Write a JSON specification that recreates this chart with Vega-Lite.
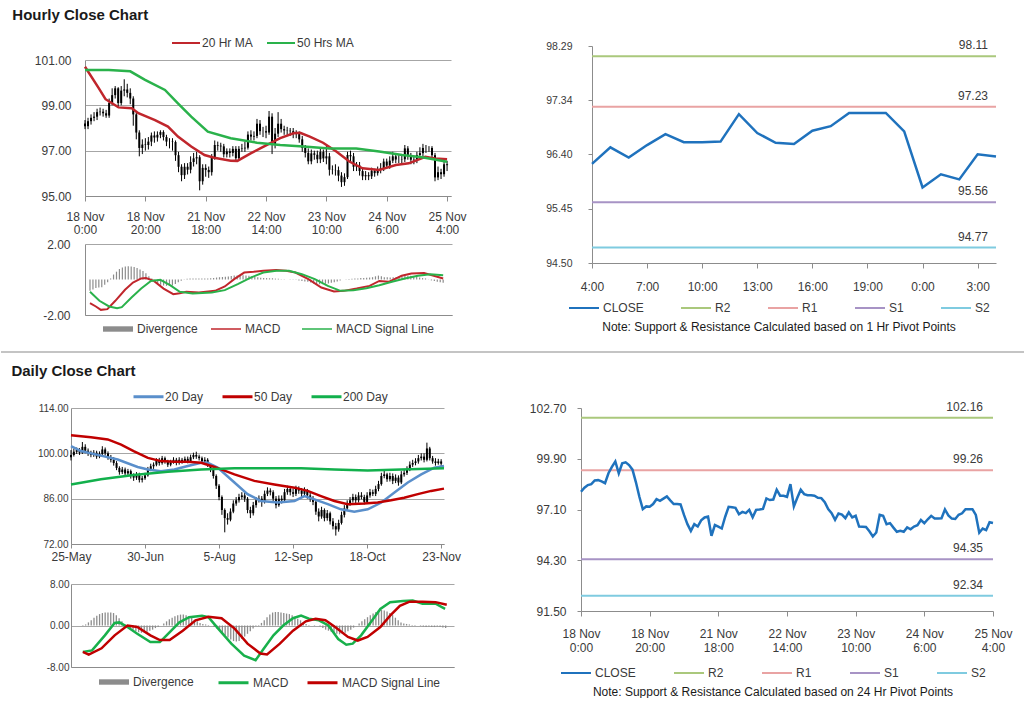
{
"$schema":"https://vega.github.io/schema/vega-lite/v6.json",
"padding":{"left":0,"top":8,"right":0,"bottom":0},
"background":"white",
"config":{"view":{"stroke":null},"font":"Liberation Sans",
"axis":{"labelFont":"Liberation Sans","labelColor":"#3a3a3a","domainColor":"#8c8c8c","tickColor":"#8c8c8c","gridColor":"#a6a6a6","gridWidth":1,"domainWidth":1,"labelFontSize":12,"labelOverlap":false,"labelFlush":false},
"legend":{"labelFont":"Liberation Sans","labelColor":"#3a3a3a","labelFontSize":12,"titleFont":"Liberation Sans"},
"title":{"font":"Liberation Sans"}},
"datasets":{
"hc":[{"i":0,"o":98.2,"c":98.08,"l":97.95,"h":98.35},{"i":1,"o":98.08,"c":98.3,"l":97.95,"h":98.45},{"i":2,"o":98.3,"c":98.45,"l":98.15,"h":98.6},{"i":3,"o":98.45,"c":98.5,"l":98.3,"h":98.7},{"i":4,"o":98.5,"c":98.7,"l":98.35,"h":98.85},{"i":5,"o":98.7,"c":98.72,"l":98.55,"h":98.9},{"i":6,"o":98.72,"c":98.65,"l":98.5,"h":98.85},{"i":7,"o":98.65,"c":98.55,"l":98.45,"h":98.8},{"i":8,"o":98.55,"c":99.1,"l":98.45,"h":99.3},{"i":9,"o":99.1,"c":99.45,"l":99.0,"h":99.75},{"i":10,"o":99.45,"c":99.75,"l":99.3,"h":99.85},{"i":11,"o":99.75,"c":99.1,"l":98.9,"h":99.8},{"i":12,"o":99.1,"c":99.65,"l":99.0,"h":99.85},{"i":13,"o":99.65,"c":99.7,"l":99.4,"h":100.15},{"i":14,"o":99.7,"c":99.55,"l":99.35,"h":99.95},{"i":15,"o":99.55,"c":99.3,"l":99.05,"h":99.75},{"i":16,"o":99.3,"c":98.6,"l":98.1,"h":99.4},{"i":17,"o":98.6,"c":97.8,"l":97.5,"h":98.7},{"i":18,"o":97.8,"c":97.12,"l":96.75,"h":97.9},{"i":19,"o":97.12,"c":97.27,"l":96.85,"h":97.5},{"i":20,"o":97.27,"c":97.25,"l":97.0,"h":97.55},{"i":21,"o":97.25,"c":97.4,"l":97.05,"h":97.6},{"i":22,"o":97.4,"c":97.67,"l":97.2,"h":97.8},{"i":23,"o":97.67,"c":97.58,"l":97.35,"h":97.85},{"i":24,"o":97.58,"c":97.7,"l":97.4,"h":97.85},{"i":25,"o":97.7,"c":97.82,"l":97.55,"h":97.9},{"i":26,"o":97.82,"c":97.6,"l":97.45,"h":97.9},{"i":27,"o":97.6,"c":97.4,"l":97.2,"h":97.7},{"i":28,"o":97.4,"c":97.4,"l":97.1,"h":97.55},{"i":29,"o":97.4,"c":97.38,"l":97.0,"h":97.55},{"i":30,"o":97.38,"c":96.8,"l":96.55,"h":97.45},{"i":31,"o":96.8,"c":96.29,"l":96.05,"h":96.95},{"i":32,"o":96.29,"c":95.92,"l":95.65,"h":96.4},{"i":33,"o":95.92,"c":96.29,"l":95.75,"h":96.45},{"i":34,"o":96.29,"c":96.16,"l":95.95,"h":96.45},{"i":35,"o":96.16,"c":96.5,"l":96.0,"h":96.75},{"i":36,"o":96.5,"c":96.66,"l":96.3,"h":96.9},{"i":37,"o":96.66,"c":96.71,"l":96.4,"h":96.95},{"i":38,"o":96.71,"c":95.65,"l":95.25,"h":96.8},{"i":39,"o":95.65,"c":96.24,"l":95.5,"h":96.4},{"i":40,"o":96.24,"c":96.15,"l":95.85,"h":96.4},{"i":41,"o":96.15,"c":96.05,"l":95.8,"h":96.3},{"i":42,"o":96.05,"c":96.7,"l":95.9,"h":96.85},{"i":43,"o":96.7,"c":97.25,"l":96.6,"h":97.45},{"i":44,"o":97.25,"c":97.22,"l":97.0,"h":97.4},{"i":45,"o":97.22,"c":97.19,"l":96.95,"h":97.35},{"i":46,"o":97.19,"c":96.84,"l":96.7,"h":97.3},{"i":47,"o":96.84,"c":96.97,"l":96.7,"h":97.1},{"i":48,"o":96.97,"c":96.9,"l":96.7,"h":97.1},{"i":49,"o":96.9,"c":97.08,"l":96.75,"h":97.2},{"i":50,"o":97.08,"c":96.67,"l":96.5,"h":97.2},{"i":51,"o":96.67,"c":97.08,"l":96.55,"h":97.2},{"i":52,"o":97.08,"c":97.1,"l":96.95,"h":97.3},{"i":53,"o":97.1,"c":97.13,"l":96.95,"h":97.4},{"i":54,"o":97.13,"c":97.71,"l":97.05,"h":97.85},{"i":55,"o":97.71,"c":97.62,"l":97.45,"h":97.9},{"i":56,"o":97.62,"c":97.65,"l":97.45,"h":97.85},{"i":57,"o":97.65,"c":98.19,"l":97.55,"h":98.4},{"i":58,"o":98.19,"c":97.86,"l":97.7,"h":98.35},{"i":59,"o":97.86,"c":97.86,"l":97.6,"h":98.05},{"i":60,"o":97.86,"c":97.8,"l":97.55,"h":98.1},{"i":61,"o":97.8,"c":98.5,"l":97.7,"h":98.75},{"i":62,"o":98.5,"c":97.27,"l":96.85,"h":98.65},{"i":63,"o":97.27,"c":97.75,"l":97.1,"h":98.0},{"i":64,"o":97.75,"c":98.19,"l":97.6,"h":98.7},{"i":65,"o":98.19,"c":97.95,"l":97.8,"h":98.4},{"i":66,"o":97.95,"c":97.89,"l":97.7,"h":98.1},{"i":67,"o":97.89,"c":97.88,"l":97.7,"h":98.05},{"i":68,"o":97.88,"c":97.86,"l":97.65,"h":98.0},{"i":69,"o":97.86,"c":97.75,"l":97.55,"h":98.0},{"i":70,"o":97.75,"c":97.73,"l":97.55,"h":97.9},{"i":71,"o":97.73,"c":97.5,"l":97.35,"h":97.85},{"i":72,"o":97.5,"c":97.12,"l":96.95,"h":97.65},{"i":73,"o":97.12,"c":96.9,"l":96.7,"h":97.25},{"i":74,"o":96.9,"c":96.53,"l":96.4,"h":97.1},{"i":75,"o":96.53,"c":96.88,"l":96.4,"h":97.05},{"i":76,"o":96.88,"c":96.82,"l":96.6,"h":97.0},{"i":77,"o":96.82,"c":96.62,"l":96.45,"h":97.0},{"i":78,"o":96.62,"c":96.94,"l":96.45,"h":97.1},{"i":79,"o":96.94,"c":96.66,"l":96.5,"h":97.05},{"i":80,"o":96.66,"c":96.75,"l":96.4,"h":97.2},{"i":81,"o":96.75,"c":96.16,"l":95.9,"h":96.9},{"i":82,"o":96.16,"c":96.15,"l":95.95,"h":96.35},{"i":83,"o":96.15,"c":96.14,"l":95.9,"h":96.4},{"i":84,"o":96.14,"c":95.9,"l":95.65,"h":96.3},{"i":85,"o":95.9,"c":95.61,"l":95.4,"h":96.05},{"i":86,"o":95.61,"c":95.83,"l":95.45,"h":96.0},{"i":87,"o":95.83,"c":96.81,"l":95.75,"h":96.95},{"i":88,"o":96.81,"c":96.75,"l":96.5,"h":97.0},{"i":89,"o":96.75,"c":96.29,"l":96.1,"h":96.9},{"i":90,"o":96.29,"c":96.35,"l":96.1,"h":96.5},{"i":91,"o":96.35,"c":96.1,"l":95.9,"h":96.5},{"i":92,"o":96.1,"c":95.87,"l":95.7,"h":96.25},{"i":93,"o":95.87,"c":95.92,"l":95.7,"h":96.1},{"i":94,"o":95.92,"c":95.87,"l":95.7,"h":96.05},{"i":95,"o":95.87,"c":96.11,"l":95.75,"h":96.25},{"i":96,"o":96.11,"c":96.01,"l":95.85,"h":96.2},{"i":97,"o":96.01,"c":96.16,"l":95.9,"h":96.3},{"i":98,"o":96.16,"c":96.23,"l":96.0,"h":96.45},{"i":99,"o":96.23,"c":96.52,"l":96.1,"h":96.65},{"i":100,"o":96.52,"c":96.34,"l":96.2,"h":96.65},{"i":101,"o":96.34,"c":96.56,"l":96.2,"h":96.75},{"i":102,"o":96.56,"c":96.75,"l":96.45,"h":96.95},{"i":103,"o":96.75,"c":96.61,"l":96.45,"h":96.9},{"i":104,"o":96.61,"c":96.61,"l":96.45,"h":96.8},{"i":105,"o":96.61,"c":96.62,"l":96.45,"h":96.85},{"i":106,"o":96.62,"c":97.1,"l":96.5,"h":97.25},{"i":107,"o":97.1,"c":96.77,"l":96.6,"h":97.2},{"i":108,"o":96.77,"c":96.6,"l":96.4,"h":96.9},{"i":109,"o":96.6,"c":96.58,"l":96.4,"h":96.75},{"i":110,"o":96.58,"c":96.81,"l":96.45,"h":96.95},{"i":111,"o":96.81,"c":96.89,"l":96.65,"h":97.15},{"i":112,"o":96.89,"c":97.12,"l":96.75,"h":97.3},{"i":113,"o":97.12,"c":97.12,"l":96.9,"h":97.25},{"i":114,"o":97.12,"c":97.12,"l":96.95,"h":97.2},{"i":115,"o":97.12,"c":96.8,"l":96.6,"h":97.2},{"i":116,"o":96.8,"c":95.82,"l":95.65,"h":96.9},{"i":117,"o":95.82,"c":96.05,"l":95.7,"h":96.3},{"i":118,"o":96.05,"c":95.96,"l":95.75,"h":96.2},{"i":119,"o":95.96,"c":96.4,"l":95.85,"h":96.55},{"i":120,"o":96.4,"c":96.36,"l":96.1,"h":96.55}],
"hma":[{"k":"20 Hr MA","i":0,"v":100.7},{"k":"20 Hr MA","i":4.6,"v":99.75},{"k":"20 Hr MA","i":6.8,"v":99.27},{"k":"20 Hr MA","i":11.1,"v":98.91},{"k":"20 Hr MA","i":15.5,"v":98.87},{"k":"20 Hr MA","i":17.7,"v":98.65},{"k":"20 Hr MA","i":23.2,"v":98.35},{"k":"20 Hr MA","i":27.5,"v":98.06},{"k":"20 Hr MA","i":30.8,"v":97.62},{"k":"20 Hr MA","i":35.2,"v":97.18},{"k":"20 Hr MA","i":39.6,"v":96.81},{"k":"20 Hr MA","i":42.8,"v":96.69},{"k":"20 Hr MA","i":48.3,"v":96.56},{"k":"20 Hr MA","i":50.5,"v":96.55},{"k":"20 Hr MA","i":54.9,"v":96.88},{"k":"20 Hr MA","i":59.2,"v":97.18},{"k":"20 Hr MA","i":64.7,"v":97.55},{"k":"20 Hr MA","i":69.1,"v":97.77},{"k":"20 Hr MA","i":71.3,"v":97.79},{"k":"20 Hr MA","i":74.5,"v":97.62},{"k":"20 Hr MA","i":78.9,"v":97.35},{"k":"20 Hr MA","i":83.3,"v":96.96},{"k":"20 Hr MA","i":87.6,"v":96.52},{"k":"20 Hr MA","i":92,"v":96.22},{"k":"20 Hr MA","i":97.5,"v":96.15},{"k":"20 Hr MA","i":103,"v":96.37},{"k":"20 Hr MA","i":107.3,"v":96.44},{"k":"20 Hr MA","i":112.8,"v":96.73},{"k":"20 Hr MA","i":116,"v":96.66},{"k":"20 Hr MA","i":120,"v":96.62},
{"k":"50 Hrs MA","i":0,"v":100.56},{"k":"50 Hrs MA","i":7.9,"v":100.56},{"k":"50 Hrs MA","i":15,"v":100.5},{"k":"50 Hrs MA","i":19.9,"v":100.12},{"k":"50 Hrs MA","i":26.5,"v":99.68},{"k":"50 Hrs MA","i":30.8,"v":99.09},{"k":"50 Hrs MA","i":35.2,"v":98.5},{"k":"50 Hrs MA","i":40.7,"v":97.84},{"k":"50 Hrs MA","i":48.3,"v":97.55},{"k":"50 Hrs MA","i":57,"v":97.35},{"k":"50 Hrs MA","i":64.7,"v":97.25},{"k":"50 Hrs MA","i":72.4,"v":97.18},{"k":"50 Hrs MA","i":81.1,"v":97.1},{"k":"50 Hrs MA","i":89.9,"v":97.1},{"k":"50 Hrs MA","i":97.5,"v":96.96},{"k":"50 Hrs MA","i":105.1,"v":96.81},{"k":"50 Hrs MA","i":111.7,"v":96.71},{"k":"50 Hrs MA","i":120,"v":96.51}],
"hmacd":[{"k":"MACD","i":0,"v":-1.33},{"k":"MACD","i":2,"v":-1.52},{"k":"MACD","i":3.7,"v":-1.71},{"k":"MACD","i":5.9,"v":-1.67},{"k":"MACD","i":8.6,"v":-1.2},{"k":"MACD","i":11.9,"v":-0.58},{"k":"MACD","i":14.6,"v":-0.17},{"k":"MACD","i":17.4,"v":0.06},{"k":"MACD","i":19,"v":0.08},{"k":"MACD","i":21.7,"v":-0.08},{"k":"MACD","i":25,"v":-0.51},{"k":"MACD","i":28.3,"v":-0.83},{"k":"MACD","i":30.5,"v":-0.77},{"k":"MACD","i":32.7,"v":-0.69},{"k":"MACD","i":37,"v":-0.73},{"k":"MACD","i":42.5,"v":-0.64},{"k":"MACD","i":45.8,"v":-0.39},{"k":"MACD","i":49,"v":0.02},{"k":"MACD","i":52.4,"v":0.39},{"k":"MACD","i":55.6,"v":0.43},{"k":"MACD","i":58.9,"v":0.49},{"k":"MACD","i":63.3,"v":0.54},{"k":"MACD","i":66.6,"v":0.49},{"k":"MACD","i":69.8,"v":0.39},{"k":"MACD","i":74.2,"v":0.02},{"k":"MACD","i":78.6,"v":-0.45},{"k":"MACD","i":82.9,"v":-0.68},{"k":"MACD","i":86.2,"v":-0.64},{"k":"MACD","i":90.6,"v":-0.51},{"k":"MACD","i":95,"v":-0.36},{"k":"MACD","i":98.3,"v":-0.08},{"k":"MACD","i":101.5,"v":-0.13},{"k":"MACD","i":105.9,"v":0.21},{"k":"MACD","i":109.2,"v":0.34},{"k":"MACD","i":113.5,"v":0.36},{"k":"MACD","i":116.8,"v":0.21},{"k":"MACD","i":120,"v":0.06},
{"k":"MACD Signal Line","i":0,"v":-0.69},{"k":"MACD Signal Line","i":3.2,"v":-1.2},{"k":"MACD Signal Line","i":6.5,"v":-1.52},{"k":"MACD Signal Line","i":9.2,"v":-1.62},{"k":"MACD Signal Line","i":10.8,"v":-1.56},{"k":"MACD Signal Line","i":14.1,"v":-1.01},{"k":"MACD Signal Line","i":17.4,"v":-0.51},{"k":"MACD Signal Line","i":20.7,"v":-0.08},{"k":"MACD Signal Line","i":23.9,"v":-0.02},{"k":"MACD Signal Line","i":27.2,"v":-0.32},{"k":"MACD Signal Line","i":30.5,"v":-0.69},{"k":"MACD Signal Line","i":34.9,"v":-0.79},{"k":"MACD Signal Line","i":41.4,"v":-0.73},{"k":"MACD Signal Line","i":45.8,"v":-0.6},{"k":"MACD Signal Line","i":50.2,"v":-0.26},{"k":"MACD Signal Line","i":54.6,"v":0.11},{"k":"MACD Signal Line","i":58.9,"v":0.39},{"k":"MACD Signal Line","i":63.3,"v":0.49},{"k":"MACD Signal Line","i":67.6,"v":0.49},{"k":"MACD Signal Line","i":72,"v":0.3},{"k":"MACD Signal Line","i":76.4,"v":0.02},{"k":"MACD Signal Line","i":80.8,"v":-0.36},{"k":"MACD Signal Line","i":85.1,"v":-0.64},{"k":"MACD Signal Line","i":89.5,"v":-0.6},{"k":"MACD Signal Line","i":93.9,"v":-0.49},{"k":"MACD Signal Line","i":98.3,"v":-0.32},{"k":"MACD Signal Line","i":102.6,"v":-0.13},{"k":"MACD Signal Line","i":107,"v":0.06},{"k":"MACD Signal Line","i":111.4,"v":0.21},{"k":"MACD Signal Line","i":115.7,"v":0.3},{"k":"MACD Signal Line","i":120,"v":0.24}],
"hdiv":[{"i":0,"d":-0.64},{"i":1,"d":-0.56},{"i":2,"d":-0.48},{"i":3,"d":-0.45},{"i":4,"d":-0.43},{"i":5,"d":-0.29},{"i":6,"d":-0.15},{"i":7,"d":0.06},{"i":8,"d":0.28},{"i":9,"d":0.44},{"i":10,"d":0.59},{"i":11,"d":0.68},{"i":12,"d":0.73},{"i":13,"d":0.74},{"i":14,"d":0.73},{"i":15,"d":0.7},{"i":16,"d":0.65},{"i":17,"d":0.57},{"i":18,"d":0.48},{"i":19,"d":0.35},{"i":20,"d":0.19},{"i":21,"d":0.05},{"i":22,"d":-0.09},{"i":23,"d":-0.2},{"i":24,"d":-0.3},{"i":25,"d":-0.34},{"i":26,"d":-0.36},{"i":27,"d":-0.36},{"i":28,"d":-0.34},{"i":29,"d":-0.25},{"i":30,"d":-0.15},{"i":31,"d":-0.07},{"i":32,"d":0.01},{"i":33,"d":0.04},{"i":34,"d":0.06},{"i":35,"d":0.06},{"i":36,"d":0.05},{"i":37,"d":0.05},{"i":38,"d":0.05},{"i":39,"d":0.05},{"i":40,"d":0.06},{"i":41,"d":0.07},{"i":42,"d":0.09},{"i":43,"d":0.11},{"i":44,"d":0.13},{"i":45,"d":0.14},{"i":46,"d":0.15},{"i":47,"d":0.17},{"i":48,"d":0.2},{"i":49,"d":0.22},{"i":50,"d":0.23},{"i":51,"d":0.24},{"i":52,"d":0.24},{"i":53,"d":0.23},{"i":54,"d":0.21},{"i":55,"d":0.19},{"i":56,"d":0.16},{"i":57,"d":0.13},{"i":58,"d":0.1},{"i":59,"d":0.09},{"i":60,"d":0.08},{"i":61,"d":0.07},{"i":62,"d":0.07},{"i":63,"d":0.05},{"i":64,"d":0.04},{"i":65,"d":0.02},{"i":66,"d":0.01},{"i":67,"d":0.0},{"i":68,"d":-0.01},{"i":69,"d":-0.01},{"i":70,"d":-0.02},{"i":71,"d":-0.05},{"i":72,"d":-0.09},{"i":73,"d":-0.11},{"i":74,"d":-0.13},{"i":75,"d":-0.17},{"i":76,"d":-0.22},{"i":77,"d":-0.25},{"i":78,"d":-0.27},{"i":79,"d":-0.26},{"i":80,"d":-0.24},{"i":81,"d":-0.22},{"i":82,"d":-0.19},{"i":83,"d":-0.15},{"i":84,"d":-0.11},{"i":85,"d":-0.05},{"i":86,"d":0.0},{"i":87,"d":0.02},{"i":88,"d":0.03},{"i":89,"d":0.04},{"i":90,"d":0.05},{"i":91,"d":0.06},{"i":92,"d":0.08},{"i":93,"d":0.09},{"i":94,"d":0.1},{"i":95,"d":0.11},{"i":96,"d":0.13},{"i":97,"d":0.18},{"i":98,"d":0.22},{"i":99,"d":0.18},{"i":100,"d":0.13},{"i":101,"d":0.12},{"i":102,"d":0.11},{"i":103,"d":0.12},{"i":104,"d":0.13},{"i":105,"d":0.16},{"i":106,"d":0.19},{"i":107,"d":0.2},{"i":108,"d":0.21},{"i":109,"d":0.21},{"i":110,"d":0.2},{"i":111,"d":0.15},{"i":112,"d":0.11},{"i":113,"d":0.08},{"i":114,"d":0.06},{"i":115,"d":0.01},{"i":116,"d":-0.05},{"i":117,"d":-0.09},{"i":118,"d":-0.13},{"i":119,"d":-0.15},{"i":120,"d":-0.18}],
"hsr":[{"k":"R2","v":98.11},{"k":"R1","v":97.23},{"k":"S1","v":95.56},{"k":"S2","v":94.77}],
"hclose":[{"j":0,"c":96.23},{"j":1,"c":96.52},{"j":2,"c":96.34},{"j":3,"c":96.56},{"j":4,"c":96.75},{"j":5,"c":96.61},{"j":6,"c":96.61},{"j":7,"c":96.62},{"j":8,"c":97.1},{"j":9,"c":96.77},{"j":10,"c":96.6},{"j":11,"c":96.58},{"j":12,"c":96.81},{"j":13,"c":96.89},{"j":14,"c":97.12},{"j":15,"c":97.12},{"j":16,"c":97.12},{"j":17,"c":96.8},{"j":18,"c":95.82},{"j":19,"c":96.05},{"j":20,"c":95.96},{"j":21,"c":96.4},{"j":22,"c":96.36}],
"dc":[{"i":0,"o":98.8,"c":99.5,"l":97.8,"h":101.0},{"i":1,"o":99.5,"c":100.5,"l":99.0,"h":101.5},{"i":2,"o":100.5,"c":101.0,"l":99.8,"h":101.8},{"i":3,"o":101.0,"c":100.2,"l":99.5,"h":101.6},{"i":4,"o":100.2,"c":102.0,"l":99.8,"h":103.5},{"i":5,"o":102.0,"c":100.8,"l":100.0,"h":102.8},{"i":6,"o":100.8,"c":100.0,"l":99.2,"h":101.5},{"i":7,"o":100.0,"c":99.5,"l":98.8,"h":100.8},{"i":8,"o":99.5,"c":100.2,"l":98.9,"h":101.0},{"i":9,"o":100.2,"c":99.0,"l":98.3,"h":100.8},{"i":10,"o":99.0,"c":99.8,"l":98.5,"h":100.6},{"i":11,"o":99.8,"c":101.2,"l":99.2,"h":102.2},{"i":12,"o":101.2,"c":100.0,"l":99.3,"h":101.8},{"i":13,"o":100.0,"c":98.8,"l":98.0,"h":100.6},{"i":14,"o":98.8,"c":98.0,"l":97.2,"h":99.5},{"i":15,"o":98.0,"c":97.0,"l":96.2,"h":98.8},{"i":16,"o":97.0,"c":95.5,"l":94.8,"h":97.6},{"i":17,"o":95.5,"c":94.2,"l":93.4,"h":96.0},{"i":18,"o":94.2,"c":95.0,"l":93.6,"h":95.8},{"i":19,"o":95.0,"c":93.8,"l":93.0,"h":95.6},{"i":20,"o":93.8,"c":94.5,"l":93.0,"h":95.2},{"i":21,"o":94.5,"c":93.0,"l":92.2,"h":95.0},{"i":22,"o":93.0,"c":92.5,"l":91.5,"h":93.8},{"i":23,"o":92.5,"c":93.5,"l":91.8,"h":94.2},{"i":24,"o":93.5,"c":91.8,"l":91.0,"h":94.0},{"i":25,"o":91.8,"c":92.3,"l":91.0,"h":93.0},{"i":26,"o":92.3,"c":93.2,"l":91.8,"h":94.0},{"i":27,"o":93.2,"c":95.0,"l":92.8,"h":95.8},{"i":28,"o":95.0,"c":96.0,"l":94.5,"h":96.8},{"i":29,"o":96.0,"c":96.5,"l":95.2,"h":97.2},{"i":30,"o":96.5,"c":97.8,"l":96.0,"h":98.5},{"i":31,"o":97.8,"c":97.0,"l":96.2,"h":98.6},{"i":32,"o":97.0,"c":98.5,"l":96.5,"h":99.2},{"i":33,"o":98.5,"c":97.5,"l":96.8,"h":99.0},{"i":34,"o":97.5,"c":96.5,"l":95.8,"h":98.0},{"i":35,"o":96.5,"c":97.2,"l":96.0,"h":98.0},{"i":36,"o":97.2,"c":98.0,"l":96.8,"h":98.8},{"i":37,"o":98.0,"c":97.0,"l":96.3,"h":98.6},{"i":38,"o":97.0,"c":98.0,"l":96.5,"h":98.8},{"i":39,"o":98.0,"c":97.5,"l":96.8,"h":98.6},{"i":40,"o":97.5,"c":98.3,"l":97.0,"h":99.0},{"i":41,"o":98.3,"c":97.6,"l":96.9,"h":99.0},{"i":42,"o":97.6,"c":98.8,"l":97.2,"h":99.6},{"i":43,"o":98.8,"c":99.5,"l":98.2,"h":100.2},{"i":44,"o":99.5,"c":99.0,"l":98.3,"h":100.5},{"i":45,"o":99.0,"c":98.5,"l":97.8,"h":99.6},{"i":46,"o":98.5,"c":97.5,"l":96.8,"h":99.0},{"i":47,"o":97.5,"c":98.0,"l":96.9,"h":98.8},{"i":48,"o":98.0,"c":96.5,"l":95.8,"h":98.5},{"i":49,"o":96.5,"c":95.0,"l":94.2,"h":97.0},{"i":50,"o":95.0,"c":93.0,"l":92.2,"h":95.5},{"i":51,"o":93.0,"c":90.0,"l":89.0,"h":93.5},{"i":52,"o":90.0,"c":86.5,"l":85.5,"h":90.5},{"i":53,"o":86.5,"c":82.5,"l":81.0,"h":87.0},{"i":54,"o":82.5,"c":80.0,"l":75.6,"h":83.0},{"i":55,"o":80.0,"c":79.5,"l":78.0,"h":81.5},{"i":56,"o":79.5,"c":82.0,"l":79.0,"h":83.0},{"i":57,"o":82.0,"c":84.5,"l":81.5,"h":85.5},{"i":58,"o":84.5,"c":85.5,"l":83.8,"h":86.5},{"i":59,"o":85.5,"c":86.5,"l":84.8,"h":87.5},{"i":60,"o":86.5,"c":87.0,"l":85.8,"h":88.0},{"i":61,"o":87.0,"c":86.0,"l":85.0,"h":88.0},{"i":62,"o":86.0,"c":82.5,"l":81.5,"h":86.5},{"i":63,"o":82.5,"c":81.5,"l":80.0,"h":83.5},{"i":64,"o":81.5,"c":84.0,"l":80.8,"h":85.0},{"i":65,"o":84.0,"c":85.5,"l":83.2,"h":86.5},{"i":66,"o":85.5,"c":86.0,"l":84.8,"h":87.0},{"i":67,"o":86.0,"c":85.0,"l":83.5,"h":86.8},{"i":68,"o":85.0,"c":87.5,"l":84.5,"h":88.5},{"i":69,"o":87.5,"c":88.5,"l":86.8,"h":89.5},{"i":70,"o":88.5,"c":88.0,"l":87.0,"h":89.2},{"i":71,"o":88.0,"c":86.0,"l":85.0,"h":88.6},{"i":72,"o":86.0,"c":84.0,"l":83.0,"h":86.8},{"i":73,"o":84.0,"c":86.0,"l":83.5,"h":87.0},{"i":74,"o":86.0,"c":85.5,"l":84.5,"h":87.0},{"i":75,"o":85.5,"c":88.0,"l":85.0,"h":89.0},{"i":76,"o":88.0,"c":89.0,"l":87.2,"h":90.0},{"i":77,"o":89.0,"c":88.0,"l":87.0,"h":89.8},{"i":78,"o":88.0,"c":87.5,"l":86.5,"h":89.0},{"i":79,"o":87.5,"c":89.0,"l":86.8,"h":90.0},{"i":80,"o":89.0,"c":88.5,"l":87.5,"h":89.8},{"i":81,"o":88.5,"c":87.5,"l":86.5,"h":89.3},{"i":82,"o":87.5,"c":88.5,"l":86.8,"h":89.5},{"i":83,"o":88.5,"c":87.0,"l":86.0,"h":89.0},{"i":84,"o":87.0,"c":86.0,"l":85.0,"h":87.8},{"i":85,"o":86.0,"c":85.0,"l":84.0,"h":86.8},{"i":86,"o":85.0,"c":82.0,"l":81.0,"h":85.5},{"i":87,"o":82.0,"c":80.5,"l":79.0,"h":83.0},{"i":88,"o":80.5,"c":82.5,"l":79.8,"h":83.5},{"i":89,"o":82.5,"c":80.0,"l":79.0,"h":83.0},{"i":90,"o":80.0,"c":81.5,"l":79.2,"h":82.5},{"i":91,"o":81.5,"c":79.0,"l":78.0,"h":82.0},{"i":92,"o":79.0,"c":77.5,"l":76.5,"h":80.0},{"i":93,"o":77.5,"c":76.5,"l":74.6,"h":78.5},{"i":94,"o":76.5,"c":78.5,"l":75.8,"h":79.5},{"i":95,"o":78.5,"c":81.0,"l":78.0,"h":82.0},{"i":96,"o":81.0,"c":83.0,"l":80.2,"h":84.0},{"i":97,"o":83.0,"c":84.5,"l":82.2,"h":85.5},{"i":98,"o":84.5,"c":85.5,"l":83.8,"h":86.5},{"i":99,"o":85.5,"c":86.5,"l":84.8,"h":87.5},{"i":100,"o":86.5,"c":85.5,"l":84.5,"h":87.3},{"i":101,"o":85.5,"c":87.0,"l":84.8,"h":88.0},{"i":102,"o":87.0,"c":86.5,"l":85.8,"h":88.0},{"i":103,"o":86.5,"c":85.0,"l":84.2,"h":87.2},{"i":104,"o":85.0,"c":87.0,"l":84.5,"h":88.0},{"i":105,"o":87.0,"c":88.0,"l":86.3,"h":89.0},{"i":106,"o":88.0,"c":87.5,"l":86.8,"h":88.8},{"i":107,"o":87.5,"c":89.0,"l":86.8,"h":90.0},{"i":108,"o":89.0,"c":90.5,"l":88.3,"h":91.5},{"i":109,"o":90.5,"c":93.0,"l":90.0,"h":94.0},{"i":110,"o":93.0,"c":93.5,"l":92.3,"h":94.8},{"i":111,"o":93.5,"c":92.0,"l":91.2,"h":94.0},{"i":112,"o":92.0,"c":93.0,"l":91.3,"h":94.0},{"i":113,"o":93.0,"c":91.5,"l":90.5,"h":93.8},{"i":114,"o":91.5,"c":92.5,"l":90.8,"h":93.5},{"i":115,"o":92.5,"c":91.0,"l":90.0,"h":93.2},{"i":116,"o":91.0,"c":93.5,"l":90.5,"h":94.5},{"i":117,"o":93.5,"c":94.0,"l":92.8,"h":95.0},{"i":118,"o":94.0,"c":95.0,"l":93.3,"h":96.0},{"i":119,"o":95.0,"c":96.5,"l":94.5,"h":97.5},{"i":120,"o":96.5,"c":97.0,"l":95.8,"h":98.0},{"i":121,"o":97.0,"c":97.5,"l":96.3,"h":98.5},{"i":122,"o":97.5,"c":98.5,"l":96.8,"h":99.5},{"i":123,"o":98.5,"c":99.0,"l":97.8,"h":100.0},{"i":124,"o":99.0,"c":98.0,"l":97.2,"h":100.0},{"i":125,"o":98.0,"c":101.5,"l":97.5,"h":103.3},{"i":126,"o":101.5,"c":98.5,"l":97.8,"h":102.0},{"i":127,"o":98.5,"c":97.5,"l":96.8,"h":99.2},{"i":128,"o":97.5,"c":97.0,"l":96.2,"h":98.5},{"i":129,"o":97.0,"c":97.5,"l":96.5,"h":98.3},{"i":130,"o":97.5,"c":96.8,"l":96.0,"h":98.2}],
"dma":[{"k":"20 Day","i":0,"v":102.2},{"k":"20 Day","i":3.5,"v":100.7},{"k":"20 Day","i":10.5,"v":99.3},{"k":"20 Day","i":16.4,"v":98.1},{"k":"20 Day","i":23.4,"v":95.8},{"k":"20 Day","i":27,"v":95.0},{"k":"20 Day","i":31.6,"v":94.5},{"k":"20 Day","i":36.3,"v":95.0},{"k":"20 Day","i":41,"v":96.1},{"k":"20 Day","i":45.7,"v":97.1},{"k":"20 Day","i":48,"v":97.1},{"k":"20 Day","i":51.5,"v":95.6},{"k":"20 Day","i":57.4,"v":91.0},{"k":"20 Day","i":62,"v":87.4},{"k":"20 Day","i":66.7,"v":85.3},{"k":"20 Day","i":72.6,"v":84.8},{"k":"20 Day","i":78.5,"v":85.3},{"k":"20 Day","i":82,"v":86.8},{"k":"20 Day","i":85.5,"v":85.8},{"k":"20 Day","i":90.2,"v":84.3},{"k":"20 Day","i":94.8,"v":82.7},{"k":"20 Day","i":99.5,"v":82.0},{"k":"20 Day","i":104.2,"v":82.7},{"k":"20 Day","i":109,"v":84.8},{"k":"20 Day","i":113.6,"v":87.9},{"k":"20 Day","i":118.3,"v":91.0},{"k":"20 Day","i":123,"v":93.5},{"k":"20 Day","i":127.6,"v":95.6},{"k":"20 Day","i":131,"v":96.1},
{"k":"50 Day","i":0,"v":105.6},{"k":"50 Day","i":7,"v":105.0},{"k":"50 Day","i":12.9,"v":104.3},{"k":"50 Day","i":17.6,"v":102.7},{"k":"50 Day","i":22,"v":100.7},{"k":"50 Day","i":27,"v":98.6},{"k":"50 Day","i":31.6,"v":97.6},{"k":"50 Day","i":36.3,"v":97.4},{"k":"50 Day","i":41,"v":97.4},{"k":"50 Day","i":45.7,"v":97.1},{"k":"50 Day","i":50.4,"v":95.8},{"k":"50 Day","i":57.4,"v":93.5},{"k":"50 Day","i":64.4,"v":91.5},{"k":"50 Day","i":71.4,"v":90.4},{"k":"50 Day","i":78.5,"v":89.4},{"k":"50 Day","i":83.1,"v":88.4},{"k":"50 Day","i":87.8,"v":86.8},{"k":"50 Day","i":92.5,"v":85.3},{"k":"50 Day","i":97.2,"v":84.3},{"k":"50 Day","i":103,"v":84.5},{"k":"50 Day","i":107.7,"v":84.8},{"k":"50 Day","i":112.4,"v":85.5},{"k":"50 Day","i":117,"v":86.3},{"k":"50 Day","i":121.8,"v":87.4},{"k":"50 Day","i":126.5,"v":88.4},{"k":"50 Day","i":131,"v":89.1},
{"k":"200 Day","i":0,"v":90.4},{"k":"200 Day","i":10.5,"v":92.0},{"k":"200 Day","i":22,"v":93.3},{"k":"200 Day","i":34,"v":94.3},{"k":"200 Day","i":45.7,"v":95.0},{"k":"200 Day","i":57.4,"v":95.4},{"k":"200 Day","i":80.8,"v":95.4},{"k":"200 Day","i":92.5,"v":95.0},{"k":"200 Day","i":104.2,"v":94.7},{"k":"200 Day","i":116,"v":95.0},{"k":"200 Day","i":131,"v":95.4}],
"dmacd":[{"k":"MACD","i":0,"v":-5.1},{"k":"MACD","i":3.3,"v":-4.8},{"k":"MACD","i":7.9,"v":-1.9},{"k":"MACD","i":11.4,"v":0.5},{"k":"MACD","i":13.1,"v":0.6},{"k":"MACD","i":16,"v":-0.3},{"k":"MACD","i":19.5,"v":-1.6},{"k":"MACD","i":24.2,"v":-3.2},{"k":"MACD","i":27.6,"v":-3.2},{"k":"MACD","i":30,"v":-1.9},{"k":"MACD","i":34.6,"v":0.6},{"k":"MACD","i":38.1,"v":1.6},{"k":"MACD","i":42.7,"v":1.9},{"k":"MACD","i":45,"v":1.6},{"k":"MACD","i":48.5,"v":-0.6},{"k":"MACD","i":53.2,"v":-3.5},{"k":"MACD","i":57.8,"v":-5.8},{"k":"MACD","i":61.9,"v":-6.7},{"k":"MACD","i":64.8,"v":-4.5},{"k":"MACD","i":68.3,"v":-1.9},{"k":"MACD","i":71.8,"v":0.0},{"k":"MACD","i":75.3,"v":1.4},{"k":"MACD","i":78.2,"v":1.9},{"k":"MACD","i":81,"v":1.3},{"k":"MACD","i":84.6,"v":1.0},{"k":"MACD","i":88,"v":0.0},{"k":"MACD","i":91.5,"v":-2.6},{"k":"MACD","i":94.4,"v":-3.7},{"k":"MACD","i":96.7,"v":-3.5},{"k":"MACD","i":99.7,"v":-1.9},{"k":"MACD","i":103.1,"v":0.6},{"k":"MACD","i":106.6,"v":3.2},{"k":"MACD","i":110.1,"v":4.5},{"k":"MACD","i":114.7,"v":4.7},{"k":"MACD","i":118.2,"v":4.8},{"k":"MACD","i":121.7,"v":4.2},{"k":"MACD","i":126.4,"v":4.2},{"k":"MACD","i":129.8,"v":3.2},
{"k":"MACD Signal Line","i":0,"v":-5.1},{"k":"MACD Signal Line","i":2.1,"v":-5.6},{"k":"MACD Signal Line","i":6.7,"v":-4.4},{"k":"MACD Signal Line","i":11.4,"v":-1.9},{"k":"MACD Signal Line","i":16,"v":0.0},{"k":"MACD Signal Line","i":19.5,"v":-0.3},{"k":"MACD Signal Line","i":24.2,"v":-1.9},{"k":"MACD Signal Line","i":27.6,"v":-2.8},{"k":"MACD Signal Line","i":31.1,"v":-2.8},{"k":"MACD Signal Line","i":35.8,"v":-1.0},{"k":"MACD Signal Line","i":40.4,"v":1.0},{"k":"MACD Signal Line","i":45,"v":1.7},{"k":"MACD Signal Line","i":49.7,"v":1.4},{"k":"MACD Signal Line","i":54.4,"v":-0.6},{"k":"MACD Signal Line","i":59,"v":-3.5},{"k":"MACD Signal Line","i":63.6,"v":-5.4},{"k":"MACD Signal Line","i":66,"v":-5.6},{"k":"MACD Signal Line","i":70.6,"v":-3.5},{"k":"MACD Signal Line","i":75.3,"v":-1.0},{"k":"MACD Signal Line","i":79.9,"v":0.8},{"k":"MACD Signal Line","i":83.4,"v":1.3},{"k":"MACD Signal Line","i":86.9,"v":1.0},{"k":"MACD Signal Line","i":90.4,"v":-0.3},{"k":"MACD Signal Line","i":95,"v":-2.2},{"k":"MACD Signal Line","i":98.5,"v":-2.9},{"k":"MACD Signal Line","i":102,"v":-2.2},{"k":"MACD Signal Line","i":106.6,"v":-0.3},{"k":"MACD Signal Line","i":110.1,"v":1.9},{"k":"MACD Signal Line","i":113.6,"v":3.8},{"k":"MACD Signal Line","i":117.1,"v":4.6},{"k":"MACD Signal Line","i":121.7,"v":4.6},{"k":"MACD Signal Line","i":126.4,"v":4.5},{"k":"MACD Signal Line","i":130.4,"v":4.0}],
"ddiv":[{"i":0,"d":0.1},{"i":1,"d":0.2},{"i":2,"d":0.6},{"i":3,"d":1.0},{"i":4,"d":1.5},{"i":5,"d":1.9},{"i":6,"d":2.2},{"i":7,"d":2.4},{"i":8,"d":2.5},{"i":9,"d":2.5},{"i":10,"d":2.5},{"i":11,"d":2.4},{"i":12,"d":2.0},{"i":13,"d":1.4},{"i":14,"d":0.8},{"i":15,"d":0.3},{"i":16,"d":-0.2},{"i":17,"d":-0.5},{"i":18,"d":-0.8},{"i":19,"d":-1.1},{"i":20,"d":-1.3},{"i":21,"d":-1.4},{"i":22,"d":-1.3},{"i":23,"d":-1.2},{"i":24,"d":-1.0},{"i":25,"d":-0.8},{"i":26,"d":-0.5},{"i":27,"d":-0.3},{"i":28,"d":0.0},{"i":29,"d":0.4},{"i":30,"d":0.8},{"i":31,"d":1.2},{"i":32,"d":1.5},{"i":33,"d":1.8},{"i":34,"d":2.0},{"i":35,"d":2.1},{"i":36,"d":2.1},{"i":37,"d":2.0},{"i":38,"d":1.8},{"i":39,"d":1.5},{"i":40,"d":1.1},{"i":41,"d":0.8},{"i":42,"d":0.5},{"i":43,"d":0.3},{"i":44,"d":0.2},{"i":45,"d":0.1},{"i":46,"d":0.0},{"i":47,"d":-0.3},{"i":48,"d":-0.6},{"i":49,"d":-1.0},{"i":50,"d":-1.4},{"i":51,"d":-1.9},{"i":52,"d":-2.3},{"i":53,"d":-2.7},{"i":54,"d":-3.0},{"i":55,"d":-3.1},{"i":56,"d":-3.0},{"i":57,"d":-2.6},{"i":58,"d":-2.1},{"i":59,"d":-1.6},{"i":60,"d":-1.1},{"i":61,"d":-0.6},{"i":62,"d":-0.1},{"i":63,"d":0.1},{"i":64,"d":0.5},{"i":65,"d":1.0},{"i":66,"d":1.6},{"i":67,"d":2.1},{"i":68,"d":2.5},{"i":69,"d":2.6},{"i":70,"d":2.6},{"i":71,"d":2.5},{"i":72,"d":2.4},{"i":73,"d":2.3},{"i":74,"d":2.2},{"i":75,"d":2.0},{"i":76,"d":1.7},{"i":77,"d":1.3},{"i":78,"d":1.0},{"i":79,"d":0.6},{"i":80,"d":0.3},{"i":81,"d":0.1},{"i":82,"d":0.0},{"i":83,"d":0.1},{"i":84,"d":0.0},{"i":85,"d":-0.2},{"i":86,"d":-0.5},{"i":87,"d":-0.8},{"i":88,"d":-1.0},{"i":89,"d":-1.2},{"i":90,"d":-1.4},{"i":91,"d":-1.6},{"i":92,"d":-1.7},{"i":93,"d":-1.6},{"i":94,"d":-1.4},{"i":95,"d":-1.1},{"i":96,"d":-0.8},{"i":97,"d":-0.4},{"i":98,"d":0.0},{"i":99,"d":0.4},{"i":100,"d":0.8},{"i":101,"d":1.2},{"i":102,"d":1.6},{"i":103,"d":2.0},{"i":104,"d":2.3},{"i":105,"d":2.6},{"i":106,"d":2.8},{"i":107,"d":3.0},{"i":108,"d":2.9},{"i":109,"d":2.7},{"i":110,"d":2.4},{"i":111,"d":2.0},{"i":112,"d":1.5},{"i":113,"d":1.0},{"i":114,"d":0.6},{"i":115,"d":0.4},{"i":116,"d":0.3},{"i":117,"d":0.2},{"i":118,"d":0.1},{"i":119,"d":0.1},{"i":120,"d":0.0},{"i":121,"d":-0.1},{"i":122,"d":-0.2},{"i":123,"d":-0.3},{"i":124,"d":-0.2},{"i":125,"d":-0.3},{"i":126,"d":-0.3},{"i":127,"d":-0.2},{"i":128,"d":-0.3},{"i":129,"d":-0.4},{"i":130,"d":-0.5}],
"dsr":[{"k":"R2","v":102.16},{"k":"R1","v":99.26},{"k":"S1","v":94.35},{"k":"S2","v":92.34}]
},
"spacing":11,
"resolve":{"scale":{"stroke":"independent","fill":"independent"},"legend":{"stroke":"independent","fill":"independent"}},
"vconcat":[
{"title":{"text":"Hourly Close Chart","anchor":"start","fontSize":15,"fontWeight":"bold","color":"#1a1a1a","offset":3,"dx":-22},
 "spacing":78,
 "resolve":{"scale":{"stroke":"independent","fill":"independent"},"legend":{"stroke":"independent","fill":"independent"}},
 "hconcat":[
  {"bounds":"flush","spacing":0,
   "resolve":{"scale":{"stroke":"independent","fill":"independent"},"legend":{"stroke":"independent","fill":"independent"}},
   "hconcat":[
    {"width":14,"height":1,"data":{"values":[]},"mark":"point"},
    {"spacing":1,
     "resolve":{"scale":{"stroke":"independent","fill":"independent"},"legend":{"stroke":"independent","fill":"independent"}},
     "vconcat":[
      {"width":10,"height":1,"data":{"values":[]},"mark":"point"},
      {"width":366,"height":136,
       "layer":[
        {"data":{"name":"hc"},"mark":{"type":"rule","color":"#000000","strokeWidth":1},
         "encoding":{"x":{"field":"i","type":"quantitative","title":null,"scale":{"domain":[0,121.3],"nice":false,"zero":false},
            "axis":{"values":[0,20,40,60,80,100,120],"labelExpr":"[['18 Nov','0:00'],['18 Nov','20:00'],['21 Nov','18:00'],['22 Nov','14:00'],['23 Nov','10:00'],['24 Nov','6:00'],['25 Nov','4:00']][round(datum.value/20)]","grid":false,"tickSize":5,"labelPadding":10,"labelLineHeight":13,"labelFontSize":12}},
           "y":{"field":"l","type":"quantitative","title":null,"scale":{"domain":[95,101],"nice":false,"zero":false},
            "axis":{"values":[95,97,99,101],"format":".2f","grid":true,"tickSize":0,"labelPadding":14,"labelFontSize":12}},
           "y2":{"field":"h"}}},
        {"data":{"name":"hc"},"mark":{"type":"rule","color":"#000000","strokeWidth":2},
         "encoding":{"x":{"field":"i","type":"quantitative","title":null,"scale":{"domain":[0,121.3],"nice":false,"zero":false}},
           "y":{"field":"o","type":"quantitative","title":null,"scale":{"domain":[95,101],"nice":false,"zero":false}},
           "y2":{"field":"c"}}},
        {"data":{"name":"hma"},"mark":{"type":"line","strokeWidth":2.5},
         "encoding":{"x":{"field":"i","type":"quantitative","title":null,"scale":{"domain":[0,121.3],"nice":false,"zero":false}},
           "y":{"field":"v","type":"quantitative","title":null,"scale":{"domain":[95,101],"nice":false,"zero":false}},
           "stroke":{"field":"k","type":"nominal","title":null,"scale":{"domain":["20 Hr MA","50 Hrs MA"],"range":["#c0262c","#2ab24b"]},
             "legend":{"orient":"none","legendX":86,"legendY":-32,"direction":"horizontal","symbolType":"stroke","symbolSize":784,"symbolStrokeWidth":2,"columnPadding":10,"labelOffset":1,"labelFontSize":12}}}}
       ]},
      {"spacing":1,
       "resolve":{"scale":{"stroke":"independent","fill":"independent"},"legend":{"stroke":"independent","fill":"independent"}},
       "vconcat":[
        {"width":10,"height":1,"data":{"values":[]},"mark":"point"},
        {"width":367,"height":71,
         "layer":[
          {"data":{"name":"hdiv"},"mark":{"type":"bar","width":1.2},
           "encoding":{"x":{"field":"i","type":"quantitative","title":null,"scale":{"domain":[0,121.3],"nice":false,"zero":false},"axis":{"labels":false,"ticks":false,"grid":false,"domain":true}},
             "y":{"field":"d","type":"quantitative","title":null,"stack":null,"scale":{"domain":[-2,2],"nice":false},
               "axis":{"values":[-2,0,2],"labelExpr":"datum.value == 0 ? '0.00' : (datum.value < 0 ? '-' : '') + format(abs(datum.value), '.2f')","grid":true,"tickSize":0,"labelPadding":15,"labelFontSize":12}},
             "fill":{"datum":"Divergence","type":"nominal","title":null,"scale":{"domain":["Divergence"],"range":["#8c8c8c"]},
               "legend":{"orient":"none","legendX":17,"legendY":69,"symbolType":"M-1,-0.18H1V0.18H-1Z","symbolSize":900,"labelOffset":3,"labelFontSize":12}}}},
          {"data":{"name":"hmacd"},"mark":{"type":"line","strokeWidth":2},
           "encoding":{"x":{"field":"i","type":"quantitative","title":null,"scale":{"domain":[0,121.3],"nice":false,"zero":false}},
             "y":{"field":"v","type":"quantitative","title":null,"scale":{"domain":[-2,2],"nice":false}},
             "stroke":{"field":"k","type":"nominal","title":null,"scale":{"domain":["MACD","MACD Signal Line"],"range":["#c0262c","#2ab24b"]},
               "legend":{"orient":"none","legendX":125,"legendY":69,"direction":"horizontal","symbolType":"stroke","symbolSize":900,"symbolStrokeWidth":1.5,"columnPadding":18,"labelOffset":3,"labelFontSize":12}}}}
         ]}
      ]}
    ]}
  ]},
  {"spacing":12,
   "resolve":{"scale":{"stroke":"independent","fill":"independent"},"legend":{"stroke":"independent","fill":"independent"}},
   "vconcat":[
    {"width":10,"height":1,"data":{"values":[]},"mark":"point"},
    {"width":404,"height":217,
     "layer":[
      {"data":{"name":"hsr"},"mark":{"type":"rule","strokeWidth":2},
       "encoding":{"y":{"field":"v","type":"quantitative","title":null,"scale":{"domain":[94.5,98.29],"nice":false,"zero":false},
           "axis":{"values":[94.5,95.45,96.4,97.34,98.29],"format":".2f","grid":false,"tickSize":4,"labelPadding":16,"labelFontSize":10.5}},
         "stroke":{"field":"k","type":"nominal","title":"Note: Support & Resistance Calculated based on 1 Hr Pivot Points","scale":{"domain":["CLOSE","R2","R1","S1","S2"],"range":["#1f72bd","#aac87c","#e9a3a3","#a793c5","#7fcbe0"]}}}},
      {"data":{"name":"hsr"},"mark":{"type":"text","align":"right","baseline":"bottom","dx":-8,"dy":-4,"fontSize":12,"color":"#3a3a3a"},
       "encoding":{"x":{"datum":22,"type":"quantitative","scale":{"domain":[0,22],"nice":false,"zero":false}},
         "y":{"field":"v","type":"quantitative","title":null,"scale":{"domain":[94.5,98.29],"nice":false,"zero":false}},
         "text":{"field":"v","type":"quantitative","format":".2f"}}},
      {"data":{"name":"hclose"},"mark":{"type":"line","strokeWidth":2.5},
       "encoding":{"x":{"field":"j","type":"quantitative","title":null,"scale":{"domain":[0,22],"nice":false,"zero":false},
           "axis":{"values":[0,3,6,9,12,15,18,21],"labelExpr":"['4:00','7:00','10:00','13:00','16:00','19:00','0:00','3:00'][round(datum.value/3)]","grid":false,"tickSize":5,"labelPadding":13,"labelFontSize":12}},
         "y":{"field":"c","type":"quantitative","title":null,"scale":{"domain":[94.5,98.29],"nice":false,"zero":false}},
         "stroke":{"datum":"CLOSE","type":"nominal","title":"Note: Support & Resistance Calculated based on 1 Hr Pivot Points","scale":{"domain":["CLOSE","R2","R1","S1","S2"],"range":["#1f72bd","#aac87c","#e9a3a3","#a793c5","#7fcbe0"]},
           "legend":{"orient":"none","legendX":-24,"legendY":246,"direction":"horizontal","symbolType":"stroke","symbolSize":900,"symbolStrokeWidth":2,"columnPadding":33,"labelOffset":3,"labelFontSize":12,"titleOrient":"bottom","titleAnchor":"middle","titleFontWeight":"normal","titleFontSize":12,"titleColor":"#1a1a1a","titlePadding":8,"titleLimit":600}}}}
     ]}
  ]}
 ]},
{"width":954,"height":6,"data":{"values":[{}]},"mark":{"type":"rule","color":"#b0b0b0","strokeWidth":1.5},
 "encoding":{"x":{"datum":-70,"type":"quantitative","scale":{"domain":[0,954],"nice":false,"zero":false},"axis":null},"x2":{"datum":954},
   "y":{"datum":0,"type":"quantitative","scale":{"domain":[0,1]},"axis":null}}},
{"title":{"text":"Daily Close Chart","anchor":"start","fontSize":15,"fontWeight":"bold","color":"#1a1a1a","offset":1,"dx":-26},
 "spacing":68,
 "resolve":{"scale":{"stroke":"independent","fill":"independent"},"legend":{"stroke":"independent","fill":"independent"}},
 "hconcat":[
  {"spacing":17,
   "resolve":{"scale":{"stroke":"independent","fill":"independent"},"legend":{"stroke":"independent","fill":"independent"}},
   "vconcat":[
    {"width":373,"height":136,
     "layer":[
      {"data":{"name":"dc"},"mark":{"type":"rule","color":"#000000","strokeWidth":1},
       "encoding":{"x":{"field":"i","type":"quantitative","title":null,"scale":{"domain":[0,131],"nice":false,"zero":false},
          "axis":{"values":[0,26,52,78,104,130],"labelExpr":"['25-May','30-Jun','5-Aug','12-Sep','18-Oct','23-Nov'][round(datum.value/26)]","grid":false,"tickSize":4,"labelPadding":3,"labelFontSize":12}},
         "y":{"field":"l","type":"quantitative","title":null,"scale":{"domain":[72,114],"nice":false,"zero":false},
          "axis":{"values":[72,86,100,114],"format":".2f","grid":true,"tickSize":0,"labelPadding":3,"labelFontSize":10}},
         "y2":{"field":"h"}}},
      {"data":{"name":"dc"},"mark":{"type":"rule","color":"#000000","strokeWidth":2},
       "encoding":{"x":{"field":"i","type":"quantitative","title":null,"scale":{"domain":[0,131],"nice":false,"zero":false}},
         "y":{"field":"o","type":"quantitative","title":null,"scale":{"domain":[72,114],"nice":false,"zero":false}},
         "y2":{"field":"c"}}},
      {"data":{"name":"dma"},"mark":{"type":"line","strokeWidth":2.5},
       "encoding":{"x":{"field":"i","type":"quantitative","title":null,"scale":{"domain":[0,131],"nice":false,"zero":false}},
         "y":{"field":"v","type":"quantitative","title":null,"scale":{"domain":[72,114],"nice":false,"zero":false}},
         "stroke":{"field":"k","type":"nominal","title":null,"scale":{"domain":["20 Day","50 Day","200 Day"],"range":["#5a8fcb","#c00000","#12b04c"]},
           "legend":{"orient":"none","legendX":61,"legendY":-28,"direction":"horizontal","symbolType":"stroke","symbolSize":900,"symbolStrokeWidth":3,"columnPadding":12,"labelOffset":0,"labelFontSize":12}}}}
     ]},
    {"width":383,"height":83,
     "layer":[
      {"data":{"name":"ddiv"},"mark":{"type":"bar","width":1.3},
       "encoding":{"x":{"field":"i","type":"quantitative","title":null,"scale":{"domain":[-2.45,131.2],"nice":false,"zero":false},"axis":{"labels":false,"ticks":false,"grid":false,"domain":true}},
         "y":{"field":"d","type":"quantitative","title":null,"stack":null,"scale":{"domain":[-8,8],"nice":false},
           "axis":{"values":[-8,0,8],"labelExpr":"datum.value == 0 ? '0.00' : (datum.value < 0 ? '-' : '') + format(abs(datum.value), '.2f')","grid":true,"tickSize":0,"labelPadding":2,"labelFontSize":10}},
         "fill":{"datum":"Divergence","type":"nominal","title":null,"scale":{"domain":["Divergence"],"range":["#8c8c8c"]},
           "legend":{"orient":"none","legendX":27,"legendY":82,"symbolType":"M-1,-0.18H1V0.18H-1Z","symbolSize":900,"labelOffset":3,"labelFontSize":12}}}},
      {"data":{"name":"dmacd"},"mark":{"type":"line","strokeWidth":2.5},
       "encoding":{"x":{"field":"i","type":"quantitative","title":null,"scale":{"domain":[-2.45,131.2],"nice":false,"zero":false}},
         "y":{"field":"v","type":"quantitative","title":null,"scale":{"domain":[-8,8],"nice":false}},
         "stroke":{"field":"k","type":"nominal","title":null,"scale":{"domain":["MACD","MACD Signal Line"],"range":["#18b04b","#c00000"]},
           "legend":{"orient":"none","legendX":146,"legendY":82,"direction":"horizontal","symbolType":"stroke","symbolSize":900,"symbolStrokeWidth":3,"columnPadding":12,"labelOffset":3,"labelFontSize":12}}}}
     ]}
  ]},
  {"width":412,"height":203,
   "layer":[
    {"data":{"name":"dsr"},"mark":{"type":"rule","strokeWidth":2},
     "encoding":{"y":{"field":"v","type":"quantitative","title":null,"scale":{"domain":[91.5,102.7],"nice":false,"zero":false},
         "axis":{"values":[91.5,94.3,97.1,99.9,102.7],"format":".2f","grid":false,"tickSize":4,"labelPadding":11,"labelFontSize":12}},
       "stroke":{"field":"k","type":"nominal","title":"Note:  Support & Resistance Calculated based on 24 Hr Pivot Points","scale":{"domain":["CLOSE","R2","R1","S1","S2"],"range":["#1f72bd","#aac87c","#e9a3a3","#a793c5","#7fcbe0"]}}}},
    {"data":{"name":"dsr"},"mark":{"type":"text","align":"right","baseline":"bottom","dx":-10,"dy":-4,"fontSize":12,"color":"#3a3a3a"},
     "encoding":{"x":{"datum":120,"type":"quantitative","scale":{"domain":[0,120],"nice":false,"zero":false}},
       "y":{"field":"v","type":"quantitative","title":null,"scale":{"domain":[91.5,102.7],"nice":false,"zero":false}},
       "text":{"field":"v","type":"quantitative","format":".2f"}}},
    {"data":{"name":"hc"},"mark":{"type":"line","strokeWidth":2.5},
     "encoding":{"x":{"field":"i","type":"quantitative","title":null,"scale":{"domain":[0,120],"nice":false,"zero":false},
         "axis":{"values":[0,20,40,60,80,100,120],"labelExpr":"[['18 Nov','0:00'],['18 Nov','20:00'],['21 Nov','18:00'],['22 Nov','14:00'],['23 Nov','10:00'],['24 Nov','6:00'],['25 Nov','4:00']][round(datum.value/20)]","grid":false,"tickSize":5,"labelPadding":12,"labelLineHeight":14,"labelFontSize":12}},
       "y":{"field":"c","type":"quantitative","title":null,"scale":{"domain":[91.5,102.7],"nice":false,"zero":false}},
       "stroke":{"datum":"CLOSE","type":"nominal","title":"Note:  Support & Resistance Calculated based on 24 Hr Pivot Points","scale":{"domain":["CLOSE","R2","R1","S1","S2"],"range":["#1f72bd","#aac87c","#e9a3a3","#a793c5","#7fcbe0"]},
         "legend":{"orient":"none","legendX":-21,"legendY":249,"direction":"horizontal","symbolType":"stroke","symbolSize":900,"symbolStrokeWidth":2,"columnPadding":34,"labelOffset":3,"labelFontSize":12,"titleOrient":"bottom","titleAnchor":"middle","titleFontWeight":"normal","titleFontSize":12,"titleColor":"#1a1a1a","titlePadding":8,"titleLimit":600}}}}
   ]}
 ]}
]
}
